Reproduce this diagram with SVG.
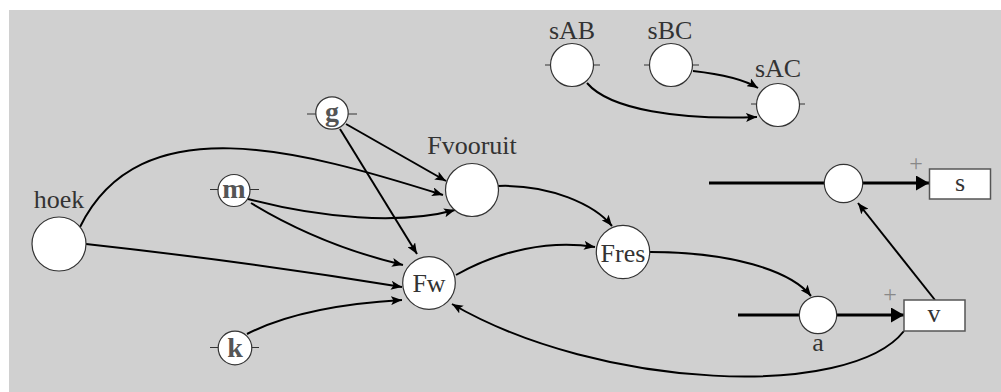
<svg xmlns="http://www.w3.org/2000/svg" width="1001" height="392" viewBox="0 0 1001 392">
<style>
.bg{fill:#d0d0d0}
.nd{fill:#fff;stroke:#333;stroke-width:1.2}
.tk{stroke:#333;stroke-width:1.2}
.bx{fill:#fff;stroke:#555;stroke-width:1.5}
.lb{font-family:"Liberation Serif","Times New Roman",serif;font-size:26px;fill:#333;text-anchor:middle}
.sm{font-family:"Liberation Serif","Times New Roman",serif;font-size:28px;font-weight:bold;fill:#555;text-anchor:middle}
.pl{font-family:"Liberation Serif","Times New Roman",serif;font-size:24px;fill:#888;text-anchor:middle}
.c{fill:none;stroke:#000;stroke-width:2;marker-end:url(#arr)}
.t{fill:none;stroke:#000;stroke-width:3.2;marker-end:url(#big)}
.tl{fill:none;stroke:#000;stroke-width:3.2}
</style>
<defs>
<marker id="arr" viewBox="0 0 11 9" refX="11" refY="4.5" markerWidth="11" markerHeight="9" markerUnits="userSpaceOnUse" orient="auto">
<path d="M0,0 L11,4.5 L0,9 L2.5,4.5 z" fill="#000"/>
</marker>
<marker id="big" viewBox="0 0 13 15" refX="13" refY="7.5" markerWidth="13" markerHeight="15" markerUnits="userSpaceOnUse" orient="auto">
<path d="M0,0 L13,7.5 L0,15 z" fill="#000"/>
</marker>
</defs>
<rect class="bg" x="9" y="10" width="992" height="382"/>
<g id="connectors">
<path class="c" d="M80,227 C140,105 300,150 443,195"/>
<path class="c" d="M86,244 Q250,262 402,287"/>
<path class="c" d="M346,124 L446,181"/>
<path class="c" d="M340,129 L417,254"/>
<path class="c" d="M248,199 C320,218 400,225 455,210"/>
<path class="c" d="M251,203 Q320,245 403,265"/>
<path class="c" d="M247,334 C290,312 350,303 402,300"/>
<path class="c" d="M498,186 C550,184 595,205 612,226"/>
<path class="c" d="M456,275 C500,250 550,240 595,247"/>
<path class="c" d="M650,252 C730,252 790,270 811,296"/>
<path class="c" d="M904,331 C850,400 600,390 452,304"/>
<path class="c" d="M935,300 L858,203"/>
<path class="c" d="M587,83 C610,110 680,120 757,117"/>
<path class="c" d="M693,71 C720,74 745,80 758,88"/>
<path class="tl" d="M709,183 L824,183"/>
<path class="t" d="M863,183 L929,183"/>
<path class="tl" d="M738,315 L799,315"/>
<path class="t" d="M837,315 L904,315"/>
</g>
<g id="sAB">
<line class="tk" x1="545" y1="65" x2="600" y2="65"/>
<circle class="nd" cx="572" cy="65" r="21.5"/>
<text class="lb" x="572" y="39">sAB</text>
</g>
<g id="sBC">
<line class="tk" x1="644" y1="65" x2="699" y2="65"/>
<circle class="nd" cx="671" cy="65" r="21.5"/>
<text class="lb" x="670" y="39">sBC</text>
</g>
<g id="sAC">
<line class="tk" x1="751" y1="104" x2="805" y2="104"/>
<circle class="nd" cx="778" cy="105" r="21.5"/>
<text class="lb" x="778" y="77">sAC</text>
</g>
<g id="g">
<line class="tk" x1="307" y1="114" x2="357" y2="114"/>
<circle class="nd" cx="332" cy="113" r="16.2"/>
<text class="sm" x="332" y="121">g</text>
</g>
<g id="m">
<line class="tk" x1="210" y1="189.5" x2="259" y2="189.5"/>
<circle class="nd" cx="234" cy="190.5" r="16"/>
<text class="sm" x="234" y="198">m</text>
</g>
<g id="k">
<line class="tk" x1="210" y1="347.5" x2="259" y2="347.5"/>
<circle class="nd" cx="235" cy="348" r="16.8"/>
<text class="sm" x="235" y="357">k</text>
</g>
<g id="hoek">
<circle class="nd" cx="59" cy="244" r="27"/>
<text class="lb" x="59" y="208">hoek</text>
</g>
<g id="Fvooruit">
<circle class="nd" cx="472" cy="190" r="26.5"/>
<text class="lb" x="472" y="154">Fvooruit</text>
</g>
<g id="Fw">
<circle class="nd" cx="429" cy="283" r="26.3"/>
<text class="lb" x="429" y="292">Fw</text>
</g>
<g id="Fres">
<circle class="nd" cx="623" cy="252" r="26.7"/>
<text class="lb" x="623" y="262">Fres</text>
</g>
<g id="sum_s">
<circle class="nd" cx="843.5" cy="183.5" r="19.2"/>
<text class="pl" x="916" y="171">+</text>
</g>
<g id="s">
<rect class="bx" x="929.5" y="169" width="61" height="30"/>
<text class="lb" x="960" y="191">s</text>
</g>
<g id="a">
<circle class="nd" cx="818" cy="315" r="18.7"/>
<text class="lb" x="818" y="351">a</text>
<text class="pl" x="890" y="302">+</text>
</g>
<g id="v">
<rect class="bx" x="904" y="300" width="61" height="31"/>
<text class="lb" x="934" y="322">v</text>
</g>
</svg>
